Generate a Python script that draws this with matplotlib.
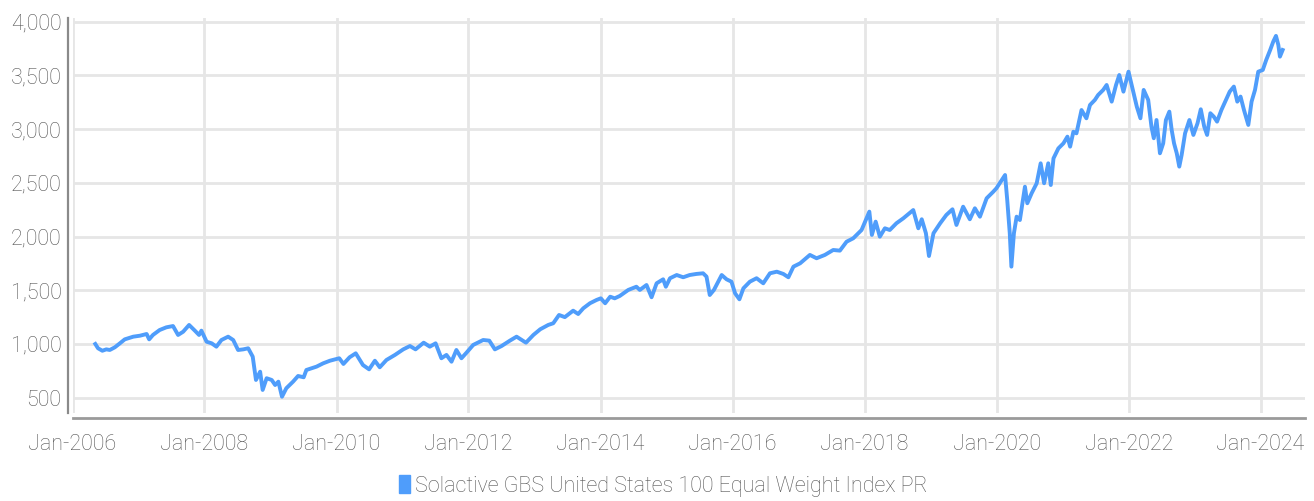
import pandas as pd
import matplotlib
matplotlib.use("Agg")
import matplotlib.pyplot as plt
import matplotlib.dates as mdates
from matplotlib.patches import Patch
from matplotlib.ticker import FuncFormatter

series_name = "Solactive GBS United States 100 Equal Weight Index PR"

# values, roughly every few weeks
dates = [
    "2006-05-07", "2006-05-22", "2006-06-15", "2006-07-07", "2006-07-26", "2006-08-23", "2006-09-20",
    "2006-10-17", "2006-12-03", "2007-01-09", "2007-02-15", "2007-03-01", "2007-03-22", "2007-04-28",
    "2007-06-04", "2007-07-11", "2007-08-08", "2007-09-05", "2007-10-08", "2007-11-09", "2007-12-02",
    "2007-12-15", "2008-01-13", "2008-02-10", "2008-03-07", "2008-04-04", "2008-05-11", "2008-06-08",
    "2008-07-05", "2008-08-03", "2008-08-30", "2008-09-24", "2008-10-12", "2008-11-04", "2008-11-18",
    "2008-12-10", "2009-01-07", "2009-01-26", "2009-02-13", "2009-03-05", "2009-03-29", "2009-05-05",
    "2009-06-02", "2009-07-03", "2009-07-18", "2009-09-12", "2009-10-19", "2009-11-25", "2010-01-16",
    "2010-02-08", "2010-03-14", "2010-04-17", "2010-05-27", "2010-06-30", "2010-08-01", "2010-08-28",
    "2010-10-04", "2010-11-20", "2011-01-05", "2011-02-11", "2011-03-14", "2011-04-28", "2011-06-01",
    "2011-07-03", "2011-08-04", "2011-09-01", "2011-09-29", "2011-10-26", "2011-11-23", "2011-12-21",
    "2012-01-27", "2012-03-22", "2012-04-25", "2012-05-26", "2012-07-02", "2012-08-17", "2012-09-23",
    "2012-11-14", "2012-12-25", "2013-02-01", "2013-03-17", "2013-04-14", "2013-05-16", "2013-06-17",
    "2013-08-02", "2013-08-30", "2013-09-27", "2013-11-03", "2013-12-10", "2014-01-02", "2014-01-26",
    "2014-02-23", "2014-03-20", "2014-04-17", "2014-06-03", "2014-07-18", "2014-08-06", "2014-09-12",
    "2014-10-10", "2014-11-07", "2014-12-13", "2014-12-28", "2015-01-20", "2015-02-26", "2015-04-03",
    "2015-05-09", "2015-06-15", "2015-07-22", "2015-08-10", "2015-08-28", "2015-09-20", "2015-10-14",
    "2015-11-02", "2015-11-29", "2015-12-26", "2016-01-15", "2016-02-08", "2016-03-01", "2016-04-06",
    "2016-05-13", "2016-06-19", "2016-07-26", "2016-09-02", "2016-10-08", "2016-11-05", "2016-12-03",
    "2017-01-09", "2017-03-04", "2017-04-10", "2017-05-26", "2017-07-11", "2017-08-17", "2017-09-23",
    "2017-10-30", "2017-12-15", "2018-01-27", "2018-02-10", "2018-03-03", "2018-03-26", "2018-04-23",
    "2018-05-20", "2018-06-26", "2018-08-03", "2018-09-27", "2018-10-25", "2018-11-13", "2018-12-06",
    "2018-12-23", "2019-01-17", "2019-02-23", "2019-03-29", "2019-05-02", "2019-05-24", "2019-06-30",
    "2019-08-06", "2019-09-03", "2019-10-01", "2019-11-07", "2019-12-14", "2019-12-31", "2020-02-17",
    "2020-02-29", "2020-03-14", "2020-03-23", "2020-04-06", "2020-04-21", "2020-05-09", "2020-06-06",
    "2020-06-19", "2020-07-13", "2020-08-10", "2020-09-01", "2020-09-20", "2020-10-13", "2020-10-27",
    "2020-11-11", "2020-12-08", "2021-01-05", "2021-01-27", "2021-02-11", "2021-03-01", "2021-03-18",
    "2021-04-15", "2021-05-12", "2021-06-01", "2021-06-28", "2021-07-16", "2021-08-13", "2021-09-01",
    "2021-09-29", "2021-10-23", "2021-11-10", "2021-12-03", "2021-12-31", "2022-01-24", "2022-02-15",
    "2022-03-07", "2022-03-25", "2022-04-19", "2022-05-07", "2022-05-20", "2022-06-04", "2022-06-23",
    "2022-07-11", "2022-07-26", "2022-08-14", "2022-08-27", "2022-09-09", "2022-09-24", "2022-10-08",
    "2022-10-21", "2022-11-09", "2022-12-03", "2022-12-25", "2023-01-17", "2023-02-04", "2023-02-23",
    "2023-03-11", "2023-03-29", "2023-04-17", "2023-05-05", "2023-05-29", "2023-06-23", "2023-07-14",
    "2023-08-06", "2023-08-25", "2023-09-12", "2023-10-01", "2023-10-25", "2023-11-12", "2023-12-01",
    "2023-12-19", "2024-01-13", "2024-02-01", "2024-02-23", "2024-03-11", "2024-03-26", "2024-04-08",
    "2024-04-17", "2024-05-02",
]
values = [
    1000, 960, 937, 950, 944, 969, 1006,
    1043, 1068, 1077, 1093, 1043, 1084, 1130,
    1155, 1167, 1084, 1114, 1177, 1124, 1084,
    1124, 1021, 1006, 975, 1037, 1068, 1037,
    944, 950, 960, 882, 665, 742, 572,
    681, 665, 618, 649, 509, 588, 649,
    702, 690, 758, 789, 820, 844, 867,
    814, 876, 913, 804, 764, 844, 783,
    851, 898, 950, 981, 950, 1012, 975,
    1006, 867, 898, 835, 944, 867, 919,
    991, 1037, 1031, 950, 981, 1031, 1068,
    1012, 1084, 1137, 1177, 1193, 1270, 1250,
    1310, 1279, 1332, 1379, 1410, 1425, 1379,
    1440, 1425, 1447, 1503, 1533, 1503, 1549,
    1435, 1565, 1602, 1533, 1612, 1642, 1621,
    1642, 1652, 1658, 1627, 1456, 1503, 1580,
    1642, 1602, 1580, 1472, 1416, 1518, 1580,
    1612, 1565, 1658, 1673, 1652, 1621, 1720,
    1751, 1829, 1798, 1829, 1875, 1869, 1952,
    1984, 2061, 2232, 2015, 2139, 1999, 2077,
    2061, 2124, 2170, 2247, 2077, 2161, 2031,
    1819, 2031, 2124, 2201, 2254, 2108, 2278,
    2161, 2263, 2185, 2356, 2418, 2449, 2573,
    2340, 2031, 1720, 2031, 2185, 2154, 2464,
    2310, 2403, 2496, 2682, 2496, 2682, 2480,
    2728, 2821, 2868, 2930, 2837, 2976, 2961,
    3178, 3101, 3225, 3272, 3318, 3365, 3411,
    3256, 3411, 3504, 3349, 3535, 3365, 3209,
    3101, 3365, 3272, 3023, 2915, 3085, 2775,
    2868, 3085, 3163, 2992, 2868, 2775, 2651,
    2759, 2961, 3085, 2946, 3055, 3185, 3023,
    2946, 3148, 3116, 3070, 3178, 3272, 3349,
    3396, 3256, 3303, 3178, 3039, 3256, 3365,
    3535, 3551, 3644, 3737, 3815, 3868, 3784,
    3675, 3737,
]
y_ticks = [500, 1000, 1500, 2000, 2500, 3000, 3500, 4000]
x_tick_years = [2006, 2008, 2010, 2012, 2014, 2016, 2018, 2020, 2022, 2024]

line_color = "#4f9dfb"
text_color = "#555555"

plt.rcParams["font.family"] = ["Roboto", "DejaVu Sans"]

df = pd.DataFrame({"date": pd.to_datetime(dates), "value": values})

fig = plt.figure(figsize=(13.14, 5.01), dpi=100)
ax = fig.add_axes([0.0552, 0.1747, 0.938, 0.7888])

ax.plot(df["date"], df["value"], color=line_color, lw=2.8, solid_joinstyle="round")

ax.set_xlim(pd.Timestamp("2006-01-01"), pd.Timestamp("2024-09-03"))
ax.set_ylim(353, 4032)
ax.set_yticks(y_ticks)
ax.yaxis.set_major_formatter(FuncFormatter(lambda v, p: f"{v:,.0f}"))
ax.set_xticks([pd.Timestamp(f"{y}-01-01") for y in x_tick_years])
ax.xaxis.set_major_formatter(mdates.DateFormatter("%b-%Y"))

ax.grid(True, color="#e6e6e6", lw=2)
ax.set_axisbelow(True)
for s in ["top", "right"]:
    ax.spines[s].set_visible(False)
ax.spines["left"].set_position(("outward", 3))
ax.spines["bottom"].set_position(("outward", 3))
ax.spines["left"].set_color("#8a8a8a")
ax.spines["left"].set_linewidth(1.6)
ax.spines["bottom"].set_color("#9a9a9a")
ax.spines["bottom"].set_linewidth(2)
ax.tick_params(axis="both", length=0, labelsize=15.5, labelcolor=text_color)
ax.tick_params(axis="y", pad=5)
ax.tick_params(axis="x", pad=12)
for lab in ax.get_xticklabels() + ax.get_yticklabels():
    lab.set_fontweight("light")

leg = fig.legend(handles=[Patch(color=line_color, label=series_name)],
                 loc="center", bbox_to_anchor=(0.505, 0.03), frameon=False,
                 handlelength=0.5, handleheight=0.9, handletextpad=0.25,
                 prop={"size": 15.5, "weight": "light"})
for t in leg.get_texts():
    t.set_color(text_color)

fig.savefig("out.png", dpi=100)
